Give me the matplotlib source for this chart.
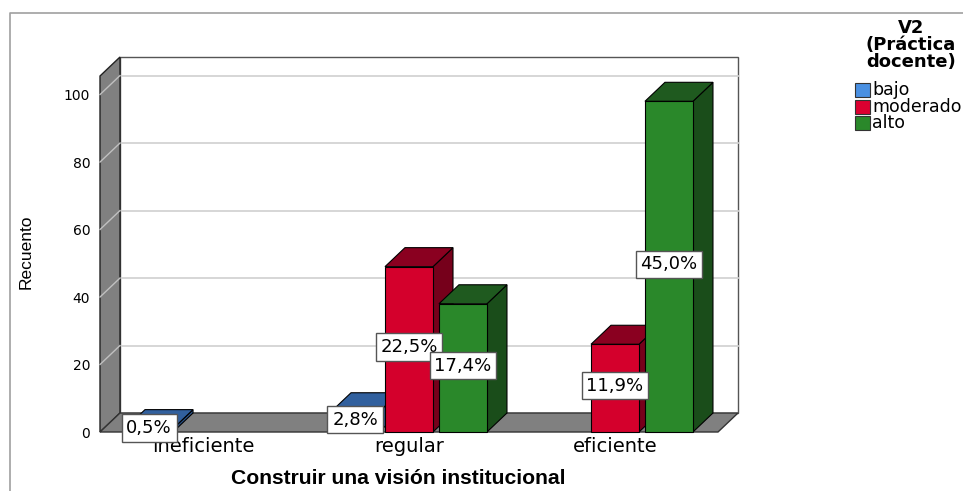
import numpy as np
import matplotlib
matplotlib.use("Agg")
import matplotlib.pyplot as plt
from matplotlib.patches import Polygon, Rectangle
from matplotlib.lines import Line2D

# ---------------- data ----------------
categories = ["ineficiente", "regular", "eficiente"]
series_names = ["bajo", "moderado", "alto"]
bajo = [1, 6, 0]
moderado = [0, 49, 26]
alto = [0, 38, 98]
yticks = [0, 20, 40, 60, 80, 100]
xlabel = "Construir una visión institucional"
ylabel = "Recuento"
legend_title = "V2\n(Práctica\ndocente)"

series = [bajo, moderado, alto]
total = sum(sum(s) for s in series)

# colours: (front, top, side, legend)
front_cols = ["#3d72b8", "#d4002c", "#2a882a"]
top_cols = ["#31609e", "#8a0020", "#1f5a1f"]
side_cols = ["#2a5288", "#76001b", "#1a4d1a"]
legend_cols = ["#4a90e2", "#dc0030", "#2a882a"]

W, H = 963, 491
fig = plt.figure(figsize=(W / 100, H / 100), dpi=100)
ax = fig.add_axes([100 / W, 59 / H, 618 / W, 356 / H])
ax.set_xlim(-0.5, 2.5)
ax.set_ylim(0, 105.5)
ax.set_facecolor("none")
for s in ax.spines.values():
    s.set_visible(False)

# depth offset converted from pixels to data units
p0 = ax.transData.transform((0, 0))
dxy = ax.transData.inverted().transform(p0 + np.array([20, 19]))
ddx, ddy = dxy[0], dxy[1]

x0, x1 = ax.get_xlim()
ytop = ax.get_ylim()[1]

# back wall
ax.add_patch(Rectangle((x0 + ddx, ddy), x1 - x0, ytop, fc="white", ec="#555555",
                       lw=1.0, clip_on=False, zorder=0.5))
for t in yticks[1:]:
    ax.add_line(Line2D([x0 + ddx, x1 + ddx], [t + ddy, t + ddy], color="#d3d3d3",
                       lw=1.3, clip_on=False, zorder=0.6))
# left side wall
ax.add_patch(Polygon([(x0, 0), (x0, ytop), (x0 + ddx, ytop + ddy), (x0 + ddx, ddy)],
                     closed=True, fc="#808080", ec="#222222", lw=1.0, clip_on=False, zorder=0.7))
for t in yticks[1:]:
    ax.add_line(Line2D([x0, x0 + ddx], [t, t + ddy], color="#c0c0c0", lw=1.0,
                       clip_on=False, zorder=0.75))
# floor
ax.add_patch(Polygon([(x0, 0), (x1, 0), (x1 + ddx, ddy), (x0 + ddx, ddy)],
                     closed=True, fc="#808080", ec="#333333", lw=1.0, clip_on=False, zorder=0.8))

# bars
bw = 0.233
step = 0.262
z = 1.0
for ci, cat in enumerate(categories):
    for si, vals in enumerate(series):
        v = vals[ci]
        if v <= 0:
            continue
        xc = ci + (si - 1) * step
        a, b = xc - bw / 2, xc + bw / 2
        side = Polygon([(b, 0), (b + ddx, ddy), (b + ddx, v + ddy), (b, v)], closed=True,
                       fc=side_cols[si], ec="black", lw=0.8, clip_on=False, zorder=z)
        top = Polygon([(a, v), (b, v), (b + ddx, v + ddy), (a + ddx, v + ddy)], closed=True,
                      fc=top_cols[si], ec="black", lw=0.8, clip_on=False, zorder=z + 0.01)
        front = Rectangle((a, 0), bw, v, fc=front_cols[si], ec="black", lw=0.8,
                          clip_on=False, zorder=z + 0.02)
        ax.add_patch(side)
        ax.add_patch(top)
        ax.add_patch(front)
        z += 0.05

# value labels
for ci, cat in enumerate(categories):
    for si, vals in enumerate(series):
        v = vals[ci]
        if v <= 0:
            continue
        xc = ci + (si - 1) * step
        pct = f"{100 * v / total:.1f}".replace(".", ",") + "%"
        ax.text(xc, v / 2 + 0.7, pct, ha="center", va="center", fontsize=13,
                family="DejaVu Sans", zorder=20, clip_on=False,
                bbox=dict(boxstyle="square,pad=0.26", fc="white", ec="#555555", lw=1.0))

# ticks
ax.set_yticks(yticks)
ax.set_yticklabels([str(t) for t in yticks], fontsize=10, family="DejaVu Sans")
ax.tick_params(axis="y", length=0, pad=7)
ax.set_xticks(range(len(categories)))
ax.set_xticklabels(categories, fontsize=14, family="DejaVu Sans")
ax.tick_params(axis="x", length=0, pad=3.5)

ax.set_ylabel(ylabel, fontsize=12.5, family=["Liberation Sans", "DejaVu Sans"])
ax.yaxis.set_label_coords((34 - 100) / 618, (432 - 252) / 356)

fig.text(398 / W, (H - 479) / H, xlabel, ha="center", va="center", fontsize=15.2,
         fontweight="bold", family=["Liberation Sans", "DejaVu Sans"])

# outer frame (top and left edges)
fig.add_artist(Line2D([9.5 / W, 9.5 / W, 1.0], [0, (H - 12.5) / H, (H - 12.5) / H],
                      color="#a0a0a0", lw=1.2, transform=fig.transFigure))

# legend
t = fig.text(911 / W, (H - 45) / H, legend_title, ha="center", va="center", fontsize=13,
             fontweight="bold", family="DejaVu Sans", linespacing=0.92, multialignment="center")
for i, name in enumerate(series_names):
    yc = H - (90 + 16.5 * i)
    fig.add_artist(Rectangle((855 / W, (yc - 7) / H), 15 / W, 14 / H, fc=legend_cols[i],
                             ec="#333333", lw=0.8, transform=fig.transFigure))
    fig.text(872 / W, yc / H, name, ha="left", va="center", fontsize=12.5,
             family="DejaVu Sans")

fig.savefig("out.png", dpi=100)
